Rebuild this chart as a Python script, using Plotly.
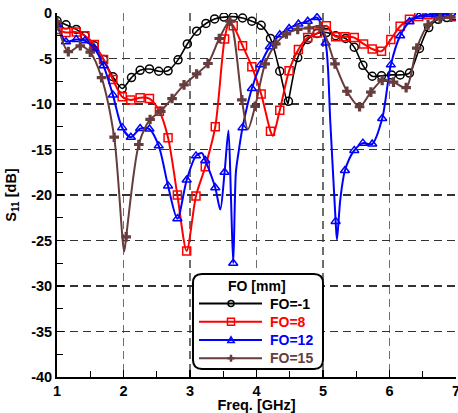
import plotly.graph_objects as go

# ---------------- data ----------------
freq_fo_m1 = [1.00, 1.135, 1.29, 1.42, 1.56, 1.70, 1.84, 1.98, 2.12, 2.25, 2.39, 2.53, 2.67, 2.82,
              2.96, 3.10, 3.24, 3.37, 3.51, 3.65, 3.79, 3.93, 4.07, 4.21, 4.35, 4.48, 4.62, 4.77,
              4.91, 5.05, 5.19, 5.34, 5.47, 5.60, 5.74, 5.88, 6.03, 6.16, 6.30, 6.45, 6.59, 6.73,
              6.86, 6.98]
s11_fo_m1 = [-0.85, -1.3, -1.8, -2.5, -3.6, -5.1, -7.0, -8.3, -7.1, -6.3, -6.15, -6.4, -6.35, -5.15,
             -3.4, -2.0, -1.15, -0.65, -0.45, -0.4, -0.55, -0.9, -1.35, -2.8, -6.4, -9.7, -4.9, -2.9,
             -2.25, -2.15, -2.5, -2.8, -3.75, -5.75, -6.95, -6.9, -6.8, -6.8, -6.6, -3.9, -1.6, -0.7,
             -0.5, -0.35]
freq_fo_m1_extra = [4.47]
s11_fo_m1_extra = [-10.0]

freq_fo_8 = [1.00, 1.135, 1.29, 1.42, 1.56, 1.70, 1.84, 1.98, 2.11, 2.25, 2.39, 2.54, 2.67, 2.81,
             2.95, 3.09, 3.23, 3.38, 3.52, 3.65, 3.79, 3.93, 4.07, 4.21, 4.35, 4.49, 4.63, 4.77,
             4.92, 5.05, 5.19, 5.33, 5.47, 5.61, 5.74, 5.88, 6.02, 6.16, 6.30, 6.44, 6.58, 6.72,
             6.85, 6.98]
s11_fo_8 = [-1.8, -2.15, -2.1, -2.5, -3.45, -5.1, -7.3, -9.2, -9.55, -9.3, -9.4, -10.8, -13.7, -20.0,
            -26.15, -20.1, -16.9, -12.5, -2.85, -1.4, -3.6, -5.9, -8.9, -13.0, -10.7, -6.35, -4.0, -2.7,
            -2.2, -1.4, -2.6, -2.6, -2.7, -3.4, -3.95, -4.2, -2.9, -1.45, -0.7, -0.38, -0.2, -0.05,
            -0.15, -0.4]
freq_fo_8_extra = [3.59, 4.245]
s11_fo_8_extra = [-1.0, -13.5]

freq_fo_12 = [1.00, 1.135, 1.29, 1.42, 1.56, 1.70, 1.84, 1.98, 2.11, 2.25, 2.39, 2.53, 2.67, 2.81,
              2.95, 3.09, 3.23, 3.38, 3.52, 3.65, 3.79, 3.93, 4.06, 4.20, 4.35, 4.49, 4.63, 4.77,
              4.91, 5.04, 5.19, 5.33, 5.47, 5.60, 5.74, 5.89, 6.02, 6.16, 6.30, 6.44, 6.58, 6.72,
              6.85, 6.99]
s11_fo_12 = [-1.3, -3.15, -2.9, -3.05, -3.9, -5.8, -9.0, -12.6, -13.65, -12.7, -12.75, -14.6, -19.0, -22.6,
             -18.35, -15.7, -16.2, -19.2, -17.5, -27.5, -12.6, -8.3, -5.7, -3.7, -2.4, -1.7, -1.2, -0.9,
             -0.5, -3.3, -22.9, -17.3, -15.1, -14.3, -14.4, -11.6, -5.7, -2.5, -0.95, -0.35, -0.2, -0.1,
             -0.2, -0.5]
freq_fo_12_extra = [3.18, 3.455, 3.578, 3.615, 3.69, 3.73, 5.11, 5.21, 5.26]
s11_fo_12_extra = [-15.4, -21.6, -12.9, -20.0, -17.5, -15.3, -12.0, -24.9, -20.5]

freq_fo_15 = [1.00, 1.17, 1.35, 1.50, 1.67, 1.86, 2.04, 2.23, 2.40, 2.56, 2.73, 2.91, 3.10, 3.27,
              3.44, 3.60, 3.78, 3.98, 4.13, 4.29, 4.45, 4.62, 4.79, 4.96, 5.18, 5.36, 5.55, 5.72,
              5.89, 6.06, 6.25, 6.41, 6.58, 6.76, 6.92]
s11_fo_15 = [-0.95, -4.25, -3.6, -4.3, -7.1, -13.65, -24.6, -14.45, -11.7, -10.8, -9.4, -7.9, -6.7, -5.55,
             -2.8, -0.9, -9.55, -10.25, -5.6, -3.4, -2.3, -1.8, -1.65, -1.5, -5.6, -8.6, -10.3, -8.7,
             -7.4, -7.6, -8.2, -3.85, -1.3, -0.6, -0.45]
freq_fo_15_extra = [2.01, 3.87]
s11_fo_15_extra = [-26.2, -12.8]

series_names = ["FO=-1", "FO=8", "FO=12", "FO=15"]
x_ticks = [1, 2, 3, 4, 5, 6, 7]
y_ticks = [-40, -35, -30, -25, -20, -15, -10, -5, 0]

# ---------------- styling ----------------
W, H = 458, 413
L, R, T, B = 57, 456, 13, 377          # plot area edges in pixels
FONT = "Liberation Sans, Arial, sans-serif"
BROWN = "#663c3c"

styles = [
    dict(color="#000000", symbol="circle-open", size=8, lw=1.6),
    dict(color="#ff0000", symbol="square-open", size=8, lw=2.0),
    dict(color="#0000ff", symbol="triangle-up-open", size=8, lw=2.0),
    dict(color=BROWN, symbol="cross", size=8, lw=2.0),
]
data = [
    (freq_fo_m1, s11_fo_m1, freq_fo_m1_extra, s11_fo_m1_extra),
    (freq_fo_8, s11_fo_8, freq_fo_8_extra, s11_fo_8_extra),
    (freq_fo_12, s11_fo_12, freq_fo_12_extra, s11_fo_12_extra),
    (freq_fo_15, s11_fo_15, freq_fo_15_extra, s11_fo_15_extra),
]

fig = go.Figure()
for name, st, (fx, sy, ex, ey) in zip(series_names, styles, data):
    pts = sorted(zip(list(fx) + list(ex), list(sy) + list(ey)))
    fig.add_trace(go.Scatter(
        x=[p[0] for p in pts], y=[p[1] for p in pts], mode="lines",
        line=dict(color=st["color"], width=st["lw"], shape="spline", smoothing=0.8),
        showlegend=False, hoverinfo="skip"))
    mk = dict(symbol=st["symbol"], size=st["size"], color=st["color"],
              line=dict(color=st["color"], width=1.5))
    if st["symbol"] == "cross":
        mk["line"] = dict(width=0)
    fig.add_trace(go.Scatter(x=fx, y=sy, mode="markers", marker=mk,
                             showlegend=False, name=name))

def px_x(x):
    return (x - L) / (R - L)

def px_y(y):
    return (B - y) / (B - T)

shapes = []
annotations = []

# rounded legend box
bx0, bx1, by0, by1, rad = 193, 323, 274, 369, 9
def pt(x, y):
    return f"{px_x(x):.5f},{px_y(y):.5f}"
path = (f"M {pt(bx0 + rad, by0)} L {pt(bx1 - rad, by0)} Q {pt(bx1, by0)} {pt(bx1, by0 + rad)} "
        f"L {pt(bx1, by1 - rad)} Q {pt(bx1, by1)} {pt(bx1 - rad, by1)} "
        f"L {pt(bx0 + rad, by1)} Q {pt(bx0, by1)} {pt(bx0, by1 - rad)} "
        f"L {pt(bx0, by0 + rad)} Q {pt(bx0, by0)} {pt(bx0 + rad, by0)} Z")
shapes.append(dict(type="path", xref="paper", yref="paper", path=path,
                   fillcolor="white", line=dict(color="black", width=2), layer="above"))
annotations.append(dict(text="<b>FO [mm]</b>", x=px_x(257), y=px_y(286), xref="paper", yref="paper",
                        showarrow=False, xanchor="center", yanchor="middle",
                        font=dict(family=FONT, size=14, color="black")))
row_y = [303.5, 321.7, 340, 358.3]
lx0, lx1, mx = 199, 262, 231
for name, st, yy in zip(series_names, styles, row_y):
    shapes.append(dict(type="line", xref="paper", yref="paper", x0=px_x(lx0), x1=px_x(lx1),
                       y0=px_y(yy), y1=px_y(yy), line=dict(color=st["color"], width=2), layer="above"))
    c = st["color"]
    if st["symbol"] == "circle-open":
        r = 3
        shapes.append(dict(type="circle", xref="paper", yref="paper", x0=px_x(mx - r), x1=px_x(mx + r),
                           y0=px_y(yy + r), y1=px_y(yy - r), line=dict(color=c, width=1.5),
                           fillcolor="rgba(0,0,0,0)", layer="above"))
    elif st["symbol"] == "square-open":
        r = 3.5
        shapes.append(dict(type="rect", xref="paper", yref="paper", x0=px_x(mx - r), x1=px_x(mx + r),
                           y0=px_y(yy + r), y1=px_y(yy - r), line=dict(color=c, width=1.5),
                           fillcolor="rgba(0,0,0,0)", layer="above"))
    elif st["symbol"] == "triangle-up-open":
        r = 3.2
        p = f"M {pt(mx - r, yy + r*0.8)} L {pt(mx + r, yy + r*0.8)} L {pt(mx, yy - r)} Z"
        shapes.append(dict(type="path", xref="paper", yref="paper", path=p,
                           line=dict(color=c, width=1.5), fillcolor="rgba(0,0,0,0)", layer="above"))
    else:
        r = 3.5
        p = f"M {pt(mx - r, yy)} L {pt(mx + r, yy)} M {pt(mx, yy - r)} L {pt(mx, yy + r)}"
        shapes.append(dict(type="path", xref="paper", yref="paper", path=p,
                           line=dict(color=c, width=2.5), layer="above"))
    annotations.append(dict(text=f"<b>{name}</b>", x=px_x(268), y=px_y(yy), xref="paper", yref="paper",
                            showarrow=False, xanchor="left", yanchor="middle",
                            font=dict(family=FONT, size=14, color=c)))

tickfont = dict(family=FONT, size=14.5, color="black", weight="bold")
titlefont = dict(family=FONT, size=14.5, color="black")
fig.update_layout(
    width=W, height=H,
    margin=dict(l=L, r=W - R, t=T, b=H - B, pad=0, autoexpand=False),
    paper_bgcolor="white", plot_bgcolor="white",
    showlegend=False,
    shapes=shapes, annotations=annotations,
    xaxis=dict(range=[1, 7], tickvals=x_ticks, ticktext=[str(v) for v in x_ticks],
               ticks="inside", ticklen=7, tickwidth=1.5, tickcolor="black",
               showline=True, linecolor="black", linewidth=2, automargin=False,
               ticklabeloverflow="allow",
               showgrid=True, gridcolor="#6e6e6e", gridwidth=1.2, griddash="8px,5px",
               zeroline=False, tickfont=tickfont,
               minor=dict(dtick=0.5, tick0=1, ticks="inside", ticklen=6, tickwidth=1.2,
                          tickcolor="black", showgrid=False),
               title=dict(text="<b>Freq. [GHz]</b>", font=titlefont, standoff=1)),
    yaxis=dict(range=[-40, 0], tickvals=y_ticks, ticktext=[str(v) for v in y_ticks],
               ticks="inside", ticklen=7, tickwidth=1.5, tickcolor="black",
               showline=True, linecolor="black", linewidth=2, automargin=False,
               ticklabeloverflow="allow",
               showgrid=True, gridcolor="#333333", gridwidth=1.2, griddash="8px,5px",
               zeroline=False, tickfont=tickfont,
               minor=dict(dtick=2.5, tick0=0, ticks="inside", ticklen=6, tickwidth=1.2,
                          tickcolor="black", showgrid=False),
               title=dict(text="<b>S<sub>11</sub> [dB]</b>", font=titlefont, standoff=11)),
)
fig.write_html("out.html", config={"displayModeBar": False, "staticPlot": True},
               post_script="document.body.style.margin='0';document.body.style.overflow='hidden';")
